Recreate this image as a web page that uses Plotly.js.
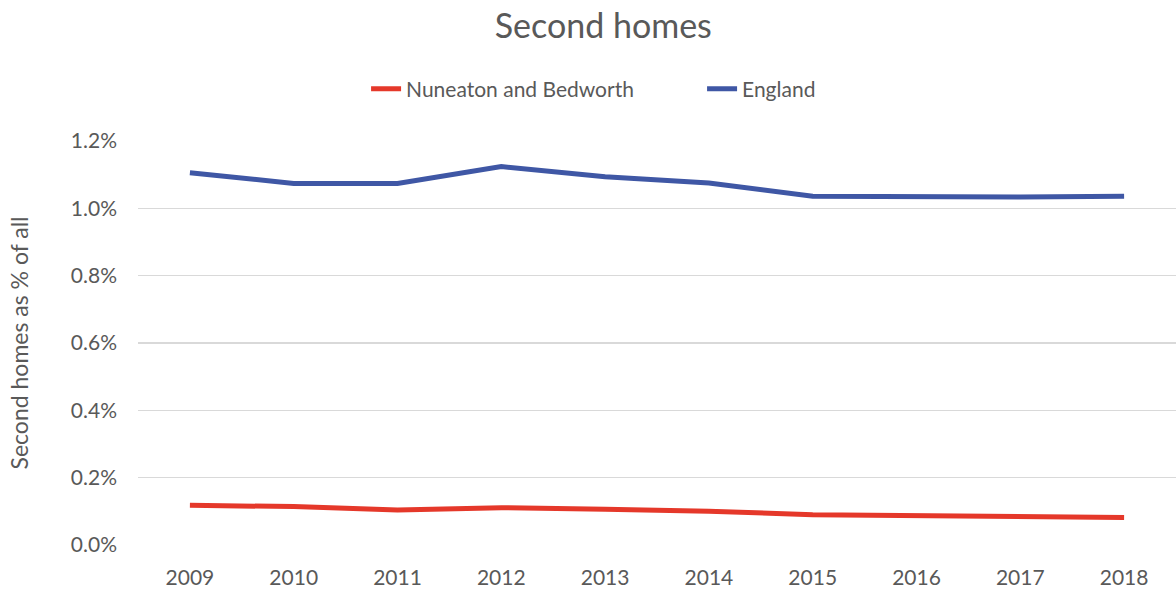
<!DOCTYPE html>
<html>
<head>
<meta charset="utf-8">
<script src="https://cdn.plot.ly/plotly-3.0.1.min.js"></script>
<style>html,body{margin:0;padding:0;background:#fff;}#chart{width:1176px;height:590px;}</style>
</head>
<body>
<div id="chart"></div>
<script>
const years = ['2009','2010','2011','2012','2013','2014','2015','2016','2017','2018'];
const nuneaton = [0.00118,0.00114,0.00104,0.00111,0.00106,0.00100,0.00090,0.00088,0.00085,0.00082];
const england = [0.01106,0.01074,0.01074,0.01124,0.01094,0.01075,0.01036,0.01034,0.01034,0.01036];
const seriesNames = ['Nuneaton and Bedworth','England'];

const font = 'Lato, "Open Sans", sans-serif';
const txt = '#595959';

const traces = [
  {x: years, y: nuneaton, name: seriesNames[0], type: 'scatter', mode: 'lines',
   line: {color: '#E5382A', width: 5}},
  {x: years, y: england, name: seriesNames[1], type: 'scatter', mode: 'lines',
   line: {color: '#3F57A5', width: 5}}
];

const layout = {
  width: 1176, height: 590,
  margin: {l: 138, r: 0, t: 141, b: 45},
  paper_bgcolor: '#fff', plot_bgcolor: '#fff',
  font: {family: font, color: txt},
  title: {text: 'Second homes', font: {size: 34, color: txt, family: font},
          xref: 'container', x: 0.513, xanchor: 'center',
          yref: 'container', y: 1 - 26/590, yanchor: 'middle'},
  showlegend: true,
  legend: {orientation: 'h', xref: 'container', x: 0.597, xanchor: 'center',
           yref: 'container', y: 1 - 89/590, yanchor: 'middle',
           font: {size: 21, color: txt, family: font},
           entrywidth: 291, entrywidthmode: 'pixels'},
  xaxis: {type: 'category', showgrid: false, zeroline: false, showline: false,
          ticks: '', ticklabelstandoff: 18, tickfont: {size: 21, color: txt}, range: [-0.5, 9.5]},
  yaxis: {range: [0, 0.012], dtick: 0.002, tickformat: '.1%', showgrid: true,
          gridcolor: '#D9D9D9', gridwidth: 1.3, zeroline: false, showline: false, ticks: '',
          ticklabelstandoff: 20,
          tickfont: {size: 21, color: txt},
          title: {text: 'Second homes as % of all', font: {size: 23, color: txt}, standoff: 35}}
};

Plotly.newPlot('chart', traces, layout, {displayModeBar: false, staticPlot: true});
</script>
</body>
</html>
